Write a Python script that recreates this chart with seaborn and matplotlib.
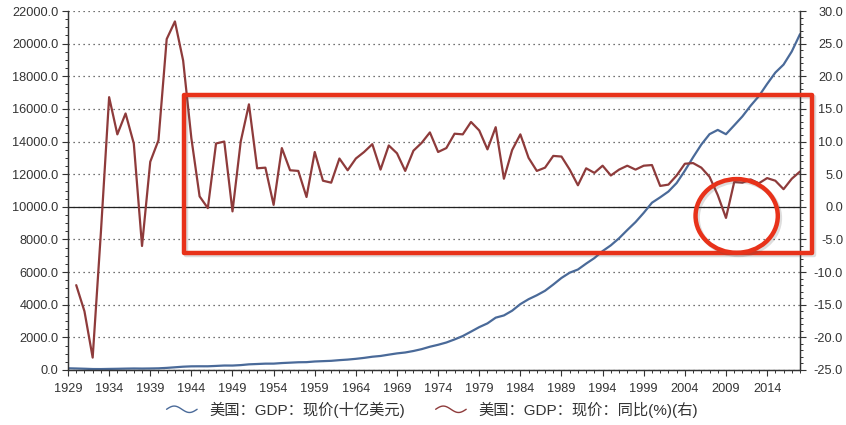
import numpy as np
import pandas as pd
import matplotlib
matplotlib.use("Agg")
import matplotlib.pyplot as plt
import seaborn as sns
from matplotlib.patches import Rectangle, Ellipse
from matplotlib.lines import Line2D
from matplotlib.legend_handler import HandlerBase
import matplotlib.patheffects as pe

years = list(range(1929, 2019))
gdp = [104.6, 92.2, 77.4, 59.5, 57.2, 66.8, 74.2, 84.8, 93.0, 87.4,
       93.4, 102.9, 129.3, 166.0, 203.1, 224.4, 228.0, 227.5, 249.6, 274.5,
       272.5, 299.8, 346.9, 367.3, 389.2, 390.5, 425.5, 449.4, 474.0, 481.2,
       521.7, 542.4, 562.2, 603.9, 637.5, 684.5, 742.3, 813.4, 860.0, 940.7,
       1017.6, 1073.3, 1164.9, 1279.1, 1425.4, 1545.2, 1684.9, 1873.4, 2081.8, 2351.6,
       2627.3, 2857.3, 3207.0, 3343.8, 3634.0, 4037.6, 4339.0, 4579.6, 4855.2, 5236.4,
       5641.6, 5963.1, 6158.1, 6520.3, 6858.6, 7287.2, 7639.7, 8073.1, 8577.6, 9062.8,
       9631.2, 10251.0, 10581.8, 10936.4, 11458.2, 12213.7, 13036.6, 13814.6, 14451.9, 14712.8,
       14448.9, 14992.1, 15542.6, 16197.0, 16784.9, 17527.3, 18224.8, 18715.0, 19519.4, 20580.2]
growth_years = list(range(1930, 2019))
growth = [-12.0, -16.0, -23.1, -3.9, 16.8, 11.1, 14.3, 9.7, -6.0, 6.9,
          10.2, 25.7, 28.4, 22.4, 10.5, 1.6, -0.2, 9.7, 10.0, -0.7,
          10.0, 15.7, 5.9, 6.0, 0.3, 9.0, 5.6, 5.5, 1.5, 8.4,
          4.0, 3.7, 7.4, 5.6, 7.4, 8.4, 9.6, 5.7, 9.4, 8.2,
          5.5, 8.6, 9.8, 11.4, 8.4, 9.0, 11.2, 11.1, 13.0, 11.7,
          8.8, 12.2, 4.3, 8.7, 11.1, 7.5, 5.5, 6.0, 7.8, 7.7,
          5.7, 3.3, 5.9, 5.2, 6.3, 4.8, 5.7, 6.3, 5.7, 6.3,
          6.4, 3.2, 3.4, 4.8, 6.6, 6.7, 6.0, 4.6, 1.8, -1.7,
          3.8, 3.7, 4.2, 3.6, 4.4, 4.0, 2.7, 4.3, 5.4]
label_gdp = "美国：GDP：现价(十亿美元)"
label_growth = "美国：GDP：现价：同比(%)(右)"

df_gdp = pd.DataFrame({"year": years, "value": gdp})
df_growth = pd.DataFrame({"year": growth_years, "value": growth})

sns.set_style("ticks")
plt.rcParams['font.family'] = ['Liberation Sans', 'Noto Sans CJK SC', 'DejaVu Sans']

blue = "#4A6A99"
red = "#8E3B3B"
box_red = "#E8321A"
tick_color = "#333333"

fig = plt.figure(figsize=(8.46, 4.25), dpi=100)
ax = fig.add_axes([68/846, 1-370/425, (800-68)/846, (370-11)/425])
ax2 = ax.twinx()

sns.lineplot(data=df_gdp, x="year", y="value", ax=ax, color=blue, linewidth=1.6, legend=False)
sns.lineplot(data=df_growth, x="year", y="value", ax=ax2, color=red, linewidth=1.6, legend=False)

ax.set_xlim(1929, 2018)
ax.set_ylim(0, 22000)
ax2.set_ylim(-25, 30)

ax.set_xticks(list(range(1929, 2018, 5)))
ax.set_xticks(list(range(1929, 2019)), minor=True)
ax.set_yticks(list(range(0, 22001, 2000)))
ax.set_yticks(list(range(0, 22001, 500)), minor=True)
ax.set_yticklabels([f"{v:.1f}" for v in range(0, 22001, 2000)])
ax2.set_yticks(list(range(-25, 31, 5)))
ax2.set_yticks(list(range(-25, 31, 1)), minor=True)
ax2.set_yticklabels([f"{v:.1f}" for v in range(-25, 31, 5)], ha="right")

for a in (ax, ax2):
    a.set_xlabel("")
    a.set_ylabel("")
    a.tick_params(which="major", length=4, width=0.8, color=tick_color, labelsize=9.2, labelcolor=tick_color, pad=3)
    a.tick_params(which="minor", length=2.5, width=0.7, color=tick_color)
    for s in a.spines.values():
        s.set_color(tick_color)
        s.set_linewidth(0.9)
    a.spines["top"].set_visible(False)
ax.tick_params(axis="x", pad=5)
ax2.tick_params(axis="y", which="major", pad=27)

ax.grid(axis="y", which="major", linestyle=(0, (1, 3)), color="#444444", linewidth=0.9)
ax.axhline(10000, color="#222222", linewidth=0.9, zorder=1)

# annotations
shadow = [pe.SimpleLineShadow(offset=(1.5, -1.5), alpha=0.2, shadow_color="#555555"), pe.Normal()]
rect = Rectangle((1943.1, -7.1), 2019.4 - 1943.1, 17.1 + 7.1, fill=False,
                 edgecolor=box_red, linewidth=3.2, clip_on=False, zorder=10,
                 joinstyle="round")
rect.set_path_effects(shadow)
ax2.add_patch(rect)
ell = Ellipse((2010.3, -1.4), 10.0, 11.3, fill=False, edgecolor=box_red,
              linewidth=3.2, clip_on=False, zorder=10)
ell.set_path_effects(shadow)
ax2.add_patch(ell)


class WaveHandler(HandlerBase):
    def create_artists(self, legend, orig_handle, xdescent, ydescent, width, height, fontsize, trans):
        t = np.linspace(0, 1, 40)
        xs = -xdescent + t * width
        ys = -ydescent + height / 2 + np.sin(t * 2 * np.pi) * height * 0.3
        line = Line2D(xs, ys, color=orig_handle.get_color(), linewidth=1.0, transform=trans)
        return [line]


handles = [Line2D([], [], color=blue), Line2D([], [], color=red)]
fig.legend(handles, [label_gdp, label_growth], loc="lower center",
           bbox_to_anchor=(0.511, -0.015), ncol=2, frameon=False,
           handler_map={Line2D: WaveHandler()}, fontsize=11, handlelength=2.0,
           columnspacing=2.0, labelcolor=tick_color)

fig.savefig("out.png", dpi=100)
